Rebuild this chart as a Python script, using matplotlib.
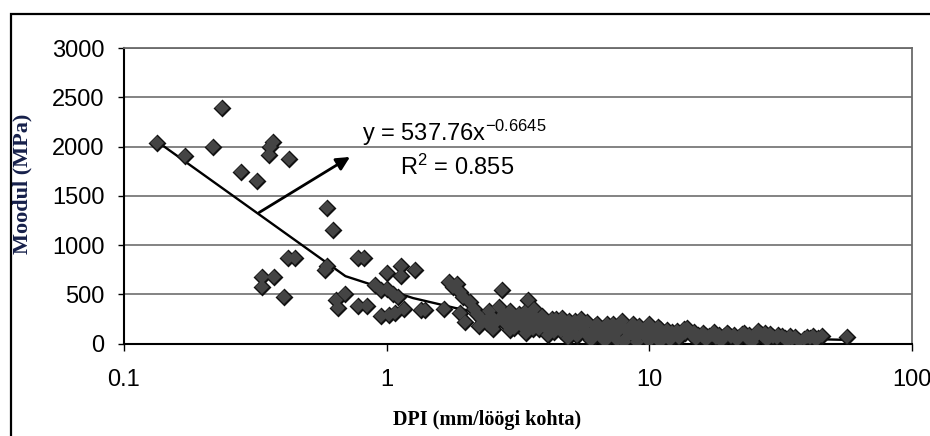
import matplotlib
matplotlib.use("Agg")
import matplotlib.pyplot as plt
from matplotlib.ticker import NullLocator
from matplotlib.patches import Rectangle
import numpy as np

plt.rcParams['font.family'] = ['Liberation Sans', 'DejaVu Sans']
plt.rcParams['mathtext.fontset'] = 'custom'
plt.rcParams['mathtext.rm'] = 'Liberation Sans'
plt.rcParams['mathtext.it'] = 'Liberation Sans:italic'

# scattered points, low DPI end
dpi_low = [0.133, 0.171, 0.218, 0.236, 0.279, 0.322, 0.370, 0.360, 0.355, 0.423,
           0.592, 0.624, 0.422, 0.448, 0.336, 0.372, 0.336, 0.408, 0.592, 0.582,
           0.78, 0.82, 0.695, 0.64, 0.655, 0.78, 0.84, 1.0, 1.13, 1.13,
           1.28, 0.905, 0.95, 1.0, 1.06, 1.10, 0.955, 1.02, 1.08, 1.16,
           1.35, 1.40, 1.65, 1.72, 1.79, 1.90, 2.74, 2.07, 2.15, 1.90,
           1.98, 2.40, 2.68, 2.94, 3.44, 3.64, 1.85, 1.95]
mod_low = [2040, 1900, 1990, 2390, 1740, 1650, 2050, 1990, 1910, 1870,
           1380, 1150, 870, 870, 680, 680, 570, 470, 790, 745,
           870, 870, 505, 440, 360, 385, 385, 720, 790, 690,
           750, 590, 540, 555, 505, 470, 275, 290, 305, 355,
           340, 340, 355, 620, 570, 520, 540, 420, 355, 305,
           220, 205, 370, 140, 440, 355, 600, 470]

# dense band, DPI > 2
dpi_band = [2.2, 2.3, 2.5, 2.6, 2.8, 3.0, 3.1, 3.2, 3.3, 3.4,
            3.5, 3.7, 3.8, 4.0, 4.1, 4.2, 4.4, 4.6, 4.8, 4.9,
            5.0, 5.2, 5.3, 5.5, 5.7, 5.9, 6.0, 6.2, 6.4, 6.7,
            6.8, 7.0, 7.3, 7.5, 7.6, 7.9, 8.0, 8.2, 8.5, 8.8,
            9.0, 9.1, 9.5, 9.8, 10.0, 10.2, 10.6, 11.0, 11.0, 11.5,
            12.0, 12.5, 12.7, 13.0, 13.5, 13.9, 14.5, 15.0, 15.8, 16.4,
            16.5, 17.3, 18.0, 18.8, 19.7, 20.5, 21.5, 22.6, 23.5, 24.5,
            26.0, 27.0, 28.0, 28.8, 30.5, 32.1, 33.5, 35.0, 37.0, 38.7,
            41.0, 43.0, 45.3, 56.5,
            2.25, 2.45, 2.55, 2.7, 2.85, 2.95, 3.05, 3.15, 3.25, 3.35,
            3.45, 3.55, 3.6, 3.75, 3.9, 4.05, 4.25, 4.35, 4.5, 4.65,
            4.75, 4.95, 5.1, 5.25, 5.4, 5.6, 5.8, 6.1, 6.3, 6.5,
            6.6, 6.9, 7.1, 7.4, 7.7, 8.1, 8.4, 8.7, 8.9, 9.3,
            9.6, 10.0, 10.4, 10.8, 11.2, 11.7, 12.2, 12.8, 13.2, 13.7,
            14.2, 14.8, 15.3, 16.0, 16.8, 17.6, 18.4, 19.2, 20.0, 21.0,
            22.0, 23.0, 24.0, 25.2, 26.5, 27.5, 29.5, 31.0, 32.8, 34.2,
            36.0, 39.8, 42.0, 44.0]
mod_band = [300, 250, 280, 220, 300, 250, 200, 300, 250, 110,
            200, 260, 150, 220, 90, 180, 250, 130, 200, 60,
            170, 230, 80, 250, 120, 70, 40, 180, 110, 160,
            30, 90, 200, 40, 130, 230, 20, 70, 150, 100,
            20, 180, 130, 60, 30, 140, 80, 150, 20, 110,
            40, 100, 97, 60, 150, 160, 90, 50, 80, 76,
            40, 90, 60, 30, 110, 70, 40, 95, 60, 20,
            125, 80, 40, 95, 60, 75, 30, 50, 30, 45,
            60, 40, 75, 65,
            180, 330, 150, 260, 200, 330, 160, 280, 190, 320,
            230, 280, 150, 200, 280, 160, 250, 120, 200, 260,
            140, 230, 120, 180, 200, 160, 220, 130, 200, 80,
            150, 200, 140, 100, 180, 150, 110, 200, 60, 150,
            100, 200, 110, 170, 80, 140, 120, 130, 90, 110,
            130, 120, 90, 110, 80, 120, 90, 80, 100, 90,
            70, 110, 90, 70, 100, 110, 70, 90, 60, 80,
            70, 70, 80, 60]

# power trendline shown on the chart
fit_a = 537.76
fit_b = -0.6645
fit_r2 = 0.855

dpi = np.array(dpi_low + dpi_band)
mod = np.array(mod_low + mod_band)

fig = plt.figure(figsize=(9.3, 4.36), dpi=100)
ax = fig.add_axes([124 / 930, 1 - 343.5 / 436, 788 / 930, 295.5 / 436])

# outlines first, then fills on top so overlapping markers merge into one blob
ax.plot(dpi, mod, linestyle='none', marker='D', markersize=7.2,
        markerfacecolor='#111111', markeredgecolor='#111111',
        markeredgewidth=2.0, zorder=3)
ax.plot(dpi, mod, linestyle='none', marker='D', markersize=7.2,
        markerfacecolor='#444444', markeredgewidth=0, zorder=3.1)

# Excel evaluates the trendline on an even linear grid
trend_x = np.linspace(dpi.min(), dpi.max(), 101)
trend_y = fit_a * trend_x ** fit_b
ax.plot(trend_x, trend_y, color='black', lw=1.7, zorder=2.5)

ax.annotate('', xy=(0.725, 1894), xytext=(0.327, 1330),
            arrowprops=dict(arrowstyle='-|>', lw=2.0, color='black',
                            mutation_scale=20, shrinkA=0, shrinkB=0),
            zorder=5)

ax.text(0.806, 2052, r'y = 537.76x$^{\mathrm{-0.6645}}$', fontsize=17,
        ha='left', va='baseline', zorder=6)
ax.text(1.126, 1714, r'R$^{\mathrm{2}}$ = %.3f' % fit_r2, fontsize=17,
        ha='left', va='baseline', zorder=6)

ax.set_xscale('log')
ax.set_xlim(0.1, 100)
ax.set_ylim(0, 3000)
ax.set_xticks([0.1, 1, 10, 100])
ax.set_xticklabels(['0.1', '1', '10', '100'])
ax.xaxis.set_minor_locator(NullLocator())
ax.set_yticks(np.arange(0, 3001, 500))

ax.yaxis.grid(True, color='#7a7a7a', lw=1.3)
ax.set_axisbelow(True)
for side in ['top', 'right']:
    ax.spines[side].set_color('#6a6a6a')
    ax.spines[side].set_linewidth(1.3)
    ax.spines[side].set_linestyle((0, (4, 1)))
for side in ['left', 'bottom']:
    ax.spines[side].set_color('black')
    ax.spines[side].set_linewidth(1.5)

ax.tick_params(axis='x', length=5, width=1, pad=13, labelsize=17)
ax.tick_params(axis='y', length=4, width=1, pad=10, labelsize=17)

fig.text(487 / 930, 1 - 420 / 436, 'DPI (mm/löögi kohta)', fontsize=14.5,
         fontweight='bold', family=['Liberation Serif', 'DejaVu Serif'],
         ha='center', va='center')
fig.text(22 / 930, 1 - 184 / 436, 'Moodul (MPa)', fontsize=16,
         fontweight='bold', family=['Liberation Serif', 'DejaVu Serif'],
         color='#16204a', rotation=90, ha='center', va='center')

# outer frame of the scanned figure
fig.patches.append(Rectangle((11 / 930, -0.2), 1.2, 1.2 - 14 / 436,
                             transform=fig.transFigure, fill=False,
                             edgecolor='black', lw=1.6))

fig.savefig('out.png', dpi=100)
